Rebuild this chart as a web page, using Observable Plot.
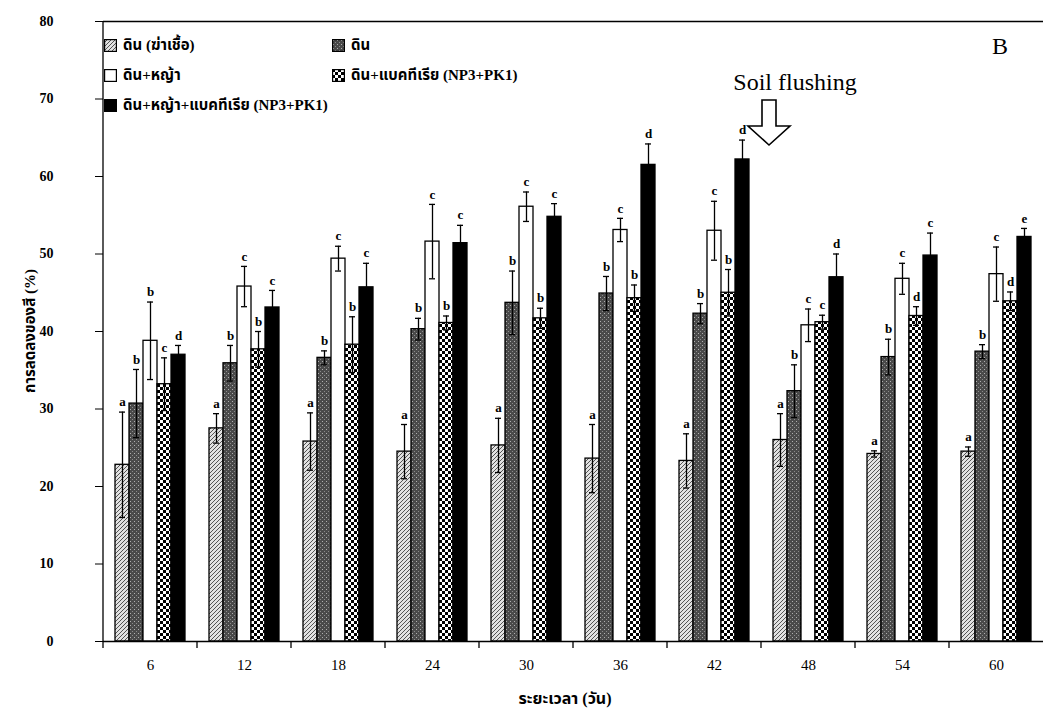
<!DOCTYPE html>
<html><head><meta charset="utf-8">
<script src="https://cdn.jsdelivr.net/npm/d3@7"></script>
<script src="https://cdn.jsdelivr.net/npm/@observablehq/plot@0.6"></script>
<style>
body{margin:0;background:#fff;}
#wrap{position:relative;width:1043px;height:716px;overflow:hidden;}
.leg{position:absolute;font-family:"Liberation Serif","Noto Sans Thai","DejaVu Sans",serif;font-size:15px;font-weight:bold;display:flex;align-items:center;gap:6px;white-space:nowrap;}
</style></head><body><div id="wrap"></div>
<script>
// ---- data ----
const days = [6, 12, 18, 24, 30, 36, 42, 48, 54, 60];
const seriesNames = ["ดิน (ฆ่าเชื้อ)", "ดิน", "ดิน+หญ้า", "ดิน+แบคทีเรีย (NP3+PK1)", "ดิน+หญ้า+แบคทีเรีย (NP3+PK1)"];
const soilSterile   = [22.8, 27.5, 25.8, 24.5, 25.3, 23.6, 23.3, 26.0, 24.2, 24.5];
const soil          = [30.7, 35.9, 36.6, 40.3, 43.7, 44.9, 42.3, 32.3, 36.7, 37.4];
const soilGrass     = [38.8, 45.8, 49.4, 51.6, 56.1, 53.1, 53.0, 40.8, 46.8, 47.4];
const soilBact      = [33.2, 37.7, 38.3, 41.1, 41.7, 44.3, 45.0, 41.2, 42.0, 43.9];
const soilGrassBact = [37.0, 43.1, 45.7, 51.4, 54.8, 61.5, 62.2, 47.0, 49.8, 52.2];
const errSoilSterile   = [6.8, 1.9, 3.7, 3.5, 3.5, 4.4, 3.5, 3.4, 0.4, 0.6];
const errSoil          = [4.4, 2.3, 0.9, 1.4, 4.1, 2.2, 1.3, 3.4, 2.3, 0.9];
const errSoilGrass     = [5.0, 2.6, 1.6, 4.8, 1.9, 1.5, 3.8, 2.1, 2.0, 3.5];
const errSoilBact      = [3.4, 2.3, 3.6, 0.9, 1.3, 1.7, 3.0, 0.9, 1.2, 1.2];
const errSoilGrassBact = [1.2, 2.2, 3.1, 2.3, 1.7, 2.7, 2.5, 3.0, 2.9, 1.1];
const letSoilSterile   = ["a","a","a","a","a","a","a","a","a","a"];
const letSoil          = ["b","b","b","b","b","b","b","b","b","b"];
const letSoilGrass     = ["b","c","c","c","c","c","c","c","c","c"];
const letSoilBact      = ["c","b","b","b","b","b","b","c","d","d"];
const letSoilGrassBact = ["d","c","c","c","c","d","d","d","c","e"];
const yTicks = [0, 10, 20, 30, 40, 50, 60, 70, 80];
const yLabel = "การลดลงของสี (%)";
const xLabel = "ระยะเวลา (วัน)";
const panelLabel = "B";
const annotation = "Soil flushing";
const annotationDay = 48;

const values = [soilSterile, soil, soilGrass, soilBact, soilGrassBact];
const errors = [errSoilSterile, errSoil, errSoilGrass, errSoilBact, errSoilGrassBact];
const letters = [letSoilSterile, letSoil, letSoilGrass, letSoilBact, letSoilGrassBact];
const fills = ["url(#pHatch)", "url(#pDark)", "#ffffff", "url(#pCheck)", "#000000"];

const rows = days.flatMap((d, i) => seriesNames.map((s, j) => ({
  day: d, series: s, value: values[j][i], err: errors[j][i], letter: letters[j][i]
})));

const serif = "Liberation Serif, Noto Sans Thai, DejaVu Sans, serif";

const plot = Plot.plot({
  width: 1043, height: 716,
  marginTop: 21, marginBottom: 75, marginLeft: 102, marginRight: 0,
  style: {fontFamily: serif, fontSize: "14px", background: "#fff", color: "#000"},
  fx: {domain: days, paddingInner: 0, paddingOuter: 0, label: null},
  x: {domain: seriesNames, paddingInner: 0, paddingOuter: 0.82, axis: null},
  y: {domain: [0, 80]},
  color: {domain: seriesNames, range: fills},
  marks: [
    Plot.barY(rows, {fx: "day", x: "series", y: "value", fill: "series", stroke: "#000", strokeWidth: 1.3}),
    Plot.ruleX(rows, {fx: "day", x: "series", y1: d => d.value - d.err, y2: d => d.value + d.err, stroke: "#000", strokeWidth: 1.3}),
    Plot.tickY(rows, {fx: "day", x: "series", y: d => d.value + d.err, insetLeft: 4, insetRight: 4, stroke: "#000", strokeWidth: 1.3}),
    Plot.tickY(rows, {fx: "day", x: "series", y: d => d.value - d.err, insetLeft: 4, insetRight: 4, stroke: "#000", strokeWidth: 1.3}),
    Plot.text(rows, {fx: "day", x: "series", y: d => d.value + d.err, text: "letter", dy: -10, fontSize: 13, fontWeight: "bold", fontFamily: serif, fill: "#000"}),
    Plot.ruleY([0], {stroke: "#000", strokeWidth: 1.3}),
    Plot.ruleY([80], {stroke: "#000", strokeWidth: 1.3}),
    Plot.axisY({ticks: yTicks, tickSize: 8, tickPadding: 42, label: null, fontSize: 14, fontWeight: "bold", stroke: "#000"}),
    Plot.axisFx({anchor: "bottom", tickSize: 0, tickPadding: 18, label: null, fontSize: 15})
  ]
});

const wrap = document.getElementById("wrap");
wrap.appendChild(plot);

// patterns
const svg = d3.select(plot);
const defs = svg.insert("defs", ":first-child");
const ph = defs.append("pattern").attr("id", "pHatch").attr("patternUnits", "userSpaceOnUse").attr("width", 4).attr("height", 4);
ph.append("rect").attr("width", 4).attr("height", 4).attr("fill", "#e2e2e2");
ph.append("path").attr("d", "M-1,1 l2,-2 M0,4 l4,-4 M3,5 l2,-2").attr("stroke", "#444").attr("stroke-width", 0.9);
const pd = defs.append("pattern").attr("id", "pDark").attr("patternUnits", "userSpaceOnUse").attr("width", 4).attr("height", 4);
pd.append("rect").attr("width", 4).attr("height", 4).attr("fill", "#4a4a4a");
pd.append("rect").attr("x", 1).attr("y", 1).attr("width", 1).attr("height", 1).attr("fill", "#b0b0b0");
pd.append("rect").attr("x", 3).attr("y", 3).attr("width", 1).attr("height", 1).attr("fill", "#8a8a8a");
const pc = defs.append("pattern").attr("id", "pCheck").attr("patternUnits", "userSpaceOnUse").attr("width", 6).attr("height", 6);
pc.append("rect").attr("width", 6).attr("height", 6).attr("fill", "#fff");
pc.append("rect").attr("width", 3).attr("height", 3).attr("fill", "#000");
pc.append("rect").attr("x", 3).attr("y", 3).attr("width", 3).attr("height", 3).attr("fill", "#000");

// axis line and x ticks between groups, from the scales
const fx = plot.scale("fx");
const ys = plot.scale("y");
const y0 = ys.apply(0);
const y80 = ys.apply(80);
const gTicks = svg.append("g").attr("stroke", "#000").attr("stroke-width", 1.3);
gTicks.append("line").attr("x1", fx.apply(days[0])).attr("x2", fx.apply(days[0])).attr("y1", y80).attr("y2", y0 + 7);
days.slice(1).forEach(d => {
  const x = fx.apply(d);
  gTicks.append("line").attr("x1", x).attr("x2", x).attr("y1", y0).attr("y2", y0 + 7);
});

// y label
svg.append("text").attr("transform", `translate(32,${(y0 + y80) / 2}) rotate(-90)`)
  .attr("text-anchor", "middle").attr("dominant-baseline", "middle")
  .attr("font-family", serif).attr("font-size", 15).attr("font-weight", "bold").text(yLabel);
// x label
svg.append("text").attr("x", 565).attr("y", 704).attr("text-anchor", "middle")
  .attr("font-family", serif).attr("font-size", 16).attr("font-weight", "bold").text(xLabel);

// annotation: arrow just after the day-42 group
const ax = fx.apply(annotationDay) + 8;
const ga = svg.append("g");
ga.append("path")
  .attr("d", `M${ax - 7},100 H${ax + 7} V126 H${ax + 21} L${ax},145 L${ax - 21},126 H${ax - 7} Z`)
  .attr("fill", "#fff").attr("stroke", "#000").attr("stroke-width", 1.6);
ga.append("text").attr("x", ax + 26).attr("y", 90).attr("text-anchor", "middle")
  .attr("font-family", serif).attr("font-size", 24).text(annotation);
ga.append("text").attr("x", 1000).attr("y", 54).attr("text-anchor", "middle")
  .attr("font-family", serif).attr("font-size", 24).text(panelLabel);

// legend (inside plot area)
const legendPos = [[104, 34], [332, 34], [104, 64], [332, 64], [104, 94]];
seriesNames.forEach((s, j) => {
  const div = document.createElement("div");
  div.className = "leg";
  div.style.left = legendPos[j][0] + "px";
  div.style.top = legendPos[j][1] + "px";
  div.innerHTML = `<svg width="13" height="13"><rect x="0.6" y="0.6" width="11.8" height="11.8" fill="${fills[j]}" stroke="#000" stroke-width="1.2"/></svg><span>${s}</span>`;
  wrap.appendChild(div);
});
</script>
</body></html>
